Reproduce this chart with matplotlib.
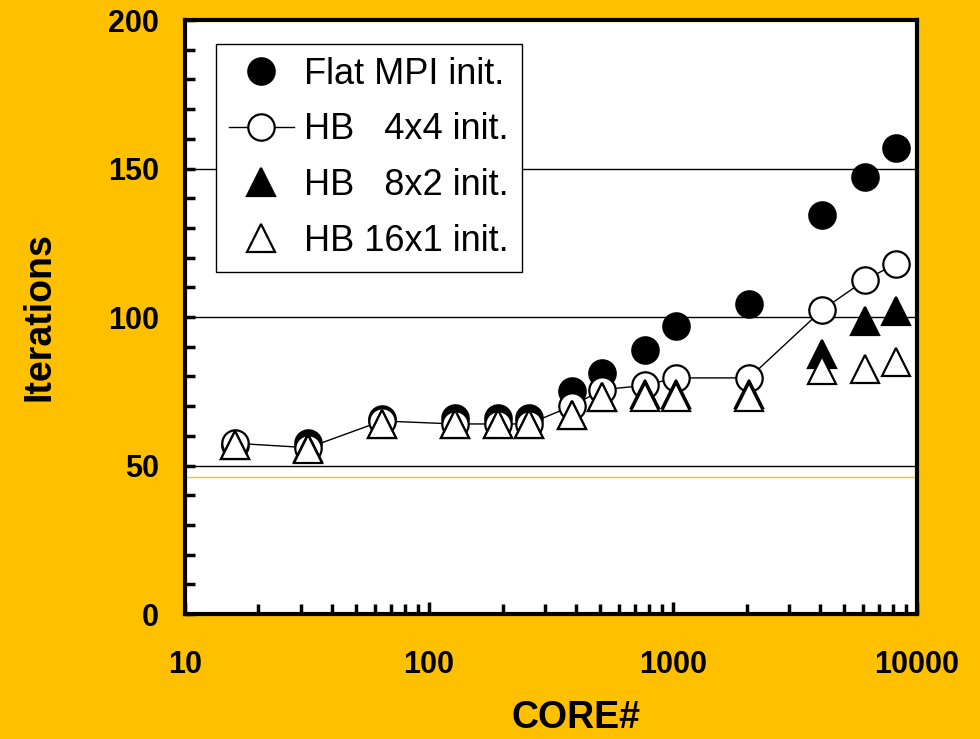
import numpy as np
import matplotlib
matplotlib.use("Agg")
import matplotlib.pyplot as plt
from matplotlib.ticker import FixedLocator, NullFormatter

# iteration counts vs core count
cores = [16, 32, 64, 128, 192, 256, 384, 512, 768, 1024, 2048, 4096, 6144, 8192]
flat_mpi = [57, 57.5, 65.5, 66, 66, 66, 75, 81, 89, 97, 104.5, 134.5, 147, 157]
hb_4x4 = [57.5, 56, 65, 64, 64, 64, 70, 75.5, 77, 79.5, 79.5, 102.5, 112.5, 118]
hb_8x2 = [57, 56, 64, 64, 64, 64, 67, 73, 74, 74, 74, 87.5, 98.5, 102]
hb_16x1 = [57, 55.5, 64, 64, 64, 64, 67, 73, 73, 73, 73, 82, 82.5, 85]

labels = ["Flat MPI init.", "HB   4x4 init.", "HB   8x2 init.", "HB 16x1 init."]
grid_y = [50, 100, 150]

bg = "#FFC000"
plt.rcParams['font.family'] = ['Liberation Sans', 'DejaVu Sans']

fig = plt.figure(figsize=(9.8, 7.39), dpi=100, facecolor=bg)
ax = fig.add_axes([0.1888, 0.1691, 0.747, 0.8038])

for g in grid_y:
    ax.axhline(g, color="black", lw=1.0, zorder=1)
ax.axhline(46, color=bg, lw=1.0, zorder=1)

ms = 19
mew = 1.6
ax.plot(cores, flat_mpi, 'o', ms=ms, mfc='black', mec='black', mew=mew,
        label=labels[0], zorder=3)
ax.plot(cores, hb_4x4, '-o', ms=ms, color='black', lw=1.0, mfc='white',
        mec='black', mew=mew, label=labels[1], zorder=4)
ax.plot(cores, hb_8x2, '^', ms=ms + 1, mfc='black', mec='black', mew=mew,
        label=labels[2], zorder=5)
ax.plot(cores, hb_16x1, '^', ms=ms + 1, mfc='white', mec='black', mew=mew,
        label=labels[3], zorder=6)

ax.set_xscale('log')
ax.set_xlim(10, 10000)
ax.set_ylim(0, 200)
ax.set_yticks([0, 50, 100, 150, 200])
ax.yaxis.set_minor_locator(FixedLocator(np.arange(0, 201, 10)))
ax.xaxis.set_minor_formatter(NullFormatter())
ax.set_xticks([10, 100, 1000, 10000])
ax.set_xticklabels(["10", "100", "1000", "10000"])

for s in ax.spines.values():
    s.set_linewidth(3)
ax.tick_params(axis='y', which='both', direction='in', length=7, width=2.5,
               labelsize=22, pad=19, right=False)
ax.tick_params(axis='x', which='both', direction='in', length=7, width=2.5,
               labelsize=22, pad=26, top=False)
ax.tick_params(axis='x', which='major', length=9)
for t in ax.get_xticklabels() + ax.get_yticklabels():
    t.set_fontweight('bold')

ax.set_xlabel("CORE#", fontsize=27, fontweight='bold')
ax.xaxis.set_label_coords(0.534, -0.145)
ax.set_ylabel("Iterations", fontsize=27, fontweight='bold', labelpad=36)

leg = ax.legend(loc='upper left', bbox_to_anchor=(0.042, 0.96), borderaxespad=0,
                fontsize=26, frameon=True, fancybox=False, edgecolor='black',
                framealpha=1, handlelength=1.8, handletextpad=0.28,
                labelspacing=0.57, borderpad=0.36)
leg.get_frame().set_linewidth(1.0)
leg.set_zorder(10)

fig.savefig("out.png", dpi=100, facecolor=bg)
